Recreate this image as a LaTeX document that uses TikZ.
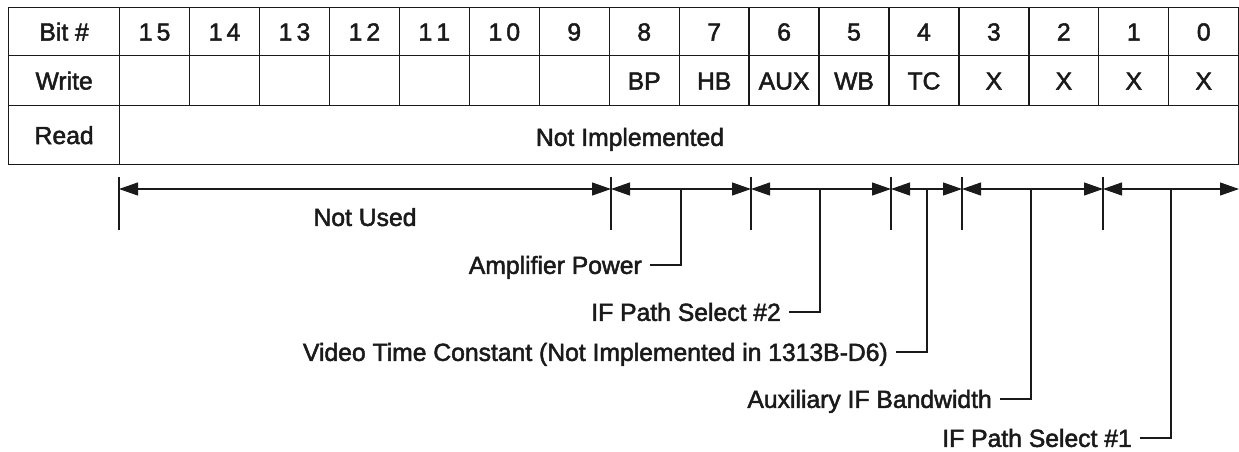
\documentclass[tikz,border=0pt]{standalone}
\usepackage{fontspec}
\setmainfont{Liberation Sans}[FakeBold=2]
\usetikzlibrary{arrows.meta, positioning, calc}
\definecolor{ink}{HTML}{1A1A1A}
\tikzset{%
	every node/.style={font=\fontsize{24.7}{29}\selectfont, text=ink},
	cell/.style={draw=ink, line width=1.3pt, rectangle, anchor=north west, inner sep=0pt,%
		minimum width=69.94pt, text height=17.7pt, text depth=0pt},
	head/.style={cell, minimum width=111pt},
	dim/.style={{Triangle[length=19pt,width=13pt]}-{Triangle[length=19pt,width=13pt]},%
		line width=1.1pt, draw=ink},
	tick/.style={line width=1.1pt, draw=ink},
	lead/.style={line width=1.1pt, draw=ink},
	lbl/.style={inner sep=0pt, text height=17.7pt, text depth=0pt}
}
\begin{document}
\begin{tikzpicture}[x=1pt, y=-1pt]
	\useasboundingbox (0,0) rectangle (1239,451);

	% register table
	\node[head, minimum height=48pt] (bit) at (8,7) {Bit \#};
	\node[head, minimum height=50pt] (write) at (8,55) {Write};
	\node[head, minimum height=59pt] (read) at (8,105) {Read};
	\foreach \i/\num/\wr in {15/{1\,5}/{}, 14/{1\,4}/{}, 13/{1\,3}/{}, 12/{1\,2}/{},%
			11/{1\,1}/{}, 10/{1\,0}/{}, 9/9/{}, 8/8/BP, 7/7/HB, 6/6/AUX, 5/5/WB,%
			4/4/TC, 3/3/X, 2/2/X, 1/1/X, 0/0/X}{
		\pgfmathsetmacro\xx{119+(15-\i)*69.94}
		\node[cell, minimum height=48pt] (b\i) at (\xx,7) {\num};
		\node[cell, minimum height=50pt] (w\i) at (\xx,55) {\wr};
	}
	\node[cell, minimum width=1119pt, minimum height=59pt] (rd) at (119,105) {};
	\node[lbl] (notimpl) at (630,137) {Not Implemented};

	% field dimension line
	\foreach \x [count=\k from 0] in {119,611,751,891,962,1103,1239}
		\coordinate (d\k) at (\x,189);
	\foreach \a/\b in {0/1,1/2,2/3,3/4,4/5,5/6}
		\draw[dim] (d\a) -- (d\b);
	\foreach \k in {0,...,5}{
		\coordinate (ta\k) at ($(d\k)+(0,-12)$);
		\coordinate (tb\k) at ($(d\k)+(0,41)$);
		\draw[tick] (ta\k) -- (tb\k);
	}
	\coordinate (mid) at ($(d0)!0.5!(d1)$);
	\node[lbl, below=19pt of mid] (notused) {Not Used};

	% leaders to the field names
	\foreach \x/\y/\n/\txt in {681/265/amp/Amplifier Power, 820/312/ifb/IF Path Select \#2,%
			927/352/vtc/Video Time Constant (Not Implemented in 1313B-D6),%
			1031/399/aux/Auxiliary IF Bandwidth, 1171/438/ifa/IF Path Select \#1}{
		\coordinate (\n top) at (\x,189);
		\coordinate (\n end) at (\x-31,\y);
		\draw[lead] (\n top) |- (\n end);
		\node[lbl, left=8pt of \n end] (\n) {\txt};
	}
\end{tikzpicture}
\end{document}
